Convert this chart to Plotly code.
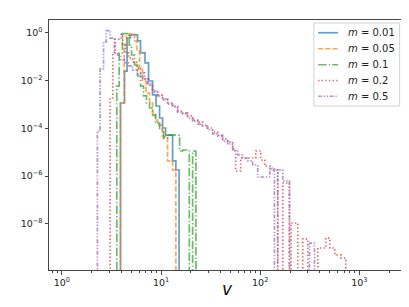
import plotly.graph_objects as go

# ---- data (bin edges in v, densities per bin) ----
labels = ["<i>m</i> = 0.01", "<i>m</i> = 0.05", "<i>m</i> = 0.1", "<i>m</i> = 0.2", "<i>m</i> = 0.5"]

edges_m001 = [3.90, 4.28, 4.54, 4.92, 5.79, 6.21, 6.89, 7.48, 8.21, 8.90, 9.66, 10.36, 11.10, 13.07, 14.11, 15.20]
dens_m001 = [1.15e-3, 0.025, 0.61, 0.82, 0.46, 0.144, 0.055, 0.0096, 0.0025, 0.00086, 0.00027, 0.000103, 5.2e-5, 4.3e-6, 1.79e-6]

edges_m005 = [3.90, 4.25, 4.48, 4.77, 5.40, 5.72, 6.07, 6.50, 7.05, 7.65, 8.21, 8.80, 9.22, 10.36, 11.63, 13.07, 14.11]
dens_m005 = [1.15e-3, 0.31, 0.74, 0.90, 0.46, 0.174, 0.034, 0.0096, 0.0030, 0.00115, 0.00044, 0.00022, 0.000137, 4.6e-5, 4.3e-6, 1.79e-6]

edges_m01 = [3.58, 3.78, 4.08, 4.77, 5.04, 5.40, 5.79, 6.21, 6.66, 7.14, 7.65, 8.21, 8.80, 9.66, 10.60, 11.63, 15.38, 16.49, 19.27, 20.81, 22.47]
dens_m01 = [0.0059, 0.144, 0.93, 0.31, 0.118, 0.045, 0.0156, 0.0059, 0.0023, 0.00115, 0.00071, 0.00036, 0.000167, 8.5e-5, 3.9e-5, 5.2e-5, 1.12e-5, 1.23e-5, 0.0, 1.12e-5]

edges_m02 = [3.07, 3.26, 3.45, 3.96, 4.10, 4.38, 4.70, 5.15, 5.66, 6.21, 6.81, 7.48, 8.21, 9.22, 10.36, 11.63,
             13.07, 14.68, 16.49, 18.53, 20.81, 23.37, 26.26, 29.49, 33.13, 37.22, 41.81, 46.97, 52.76, 56.56,
             63.54, 90.06, 101.2, 111.1, 127.7, 150.2, 168.8, 197.2, 204.7, 239.2, 268.8, 301.9, 381.0, 458.6,
             503.5, 565.6, 650.4, 730.4]
dens_m02 = [0.00186, 0.15, 0.55, 0.86, 0.31, 0.144, 0.089, 0.060, 0.034, 0.021, 0.0117, 0.0065, 0.0037, 0.0025,
            0.00154, 0.00115, 0.00078, 0.00053, 0.00040, 0.00033, 0.00022, 0.00018, 0.000125, 0.000103, 7.0e-5,
            4.8e-5, 3.6e-5, 2.7e-5, 1.36e-5, 1.62e-6, 5.7e-6, 1.12e-5, 4.7e-6, 2.6e-6, 1.79e-6, 0.0, 5.1e-7, 0.0,
            1.07e-8, 0.0, 2.3e-9, 0.0, 9.6e-10, 2.5e-9, 9.6e-10, 4.9e-10, 3.6e-10]

edges_m05 = [2.28, 2.43, 2.63, 2.80, 3.07, 3.39, 3.64, 3.90, 4.28, 4.70, 5.15, 5.79, 6.50, 7.31, 8.21, 9.22, 10.36,
             11.63, 13.07, 14.68, 16.49, 18.53, 20.81, 23.37, 26.26, 29.49, 33.13, 37.22, 41.81, 46.97, 52.76,
             59.27, 66.57, 74.76, 84.00, 94.34, 124.8, 139.1, 150.2, 168.8, 197.2, 314.1, 352.8]
dens_m05 = [7.7e-5, 0.032, 0.42, 1.25, 0.60, 0.144, 0.118, 0.073, 0.055, 0.041, 0.028, 0.019, 0.0117, 0.0072,
            0.0033, 0.0023, 0.00169, 0.00104, 0.00086, 0.00048, 0.00044, 0.00027, 0.00020, 0.000151, 0.000137,
            8.5e-5, 5.8e-5, 5.2e-5, 2.9e-5, 2.2e-5, 1.12e-5, 7.6e-6, 5.7e-6, 4.3e-6, 2.9e-6, 9.1e-7, 2.17e-6, 0.0,
            1.79e-6, 6.2e-7, 0.0, 1.55e-9]

series = [
    (edges_m001, dens_m001, "#1f77b4", "solid"),
    (edges_m005, dens_m005, "#ff7f0e", "5px,2.2px"),
    (edges_m01, dens_m01, "#2ca02c", "8.5px,2.1px,1.4px,2.1px"),
    (edges_m02, dens_m02, "#d62728", "1.4px,2.2px"),
    (edges_m05, dens_m05, "#9467bd", "4px,1.6px,1.4px,1.6px,1.4px,1.6px"),
]

FLOOR = 1e-20  # empty bins fall below the visible axis, as on a log scale
LW = 1.7
ALPHA = 0.7

fig = go.Figure()
for (edges, dens, color, dash), name in zip(series, labels):
    xs = [edges[0]] + edges[:-1] + [edges[-1]]
    ys = [FLOOR] + [d if d > 0 else FLOOR for d in dens] + [FLOOR]
    fig.add_trace(go.Scatter(
        x=xs, y=ys, mode="lines", name=name, line_shape="hv",
        line=dict(color=color, width=LW, dash=dash), opacity=ALPHA, showlegend=False,
    ))

# ---- legend box drawn in the plot's paper space (matplotlib-style) ----
leg_x0, leg_x1, leg_y0, leg_y1 = 0.744, 0.985, 0.656, 0.988
fig.add_shape(type="rect", xref="paper", yref="paper", x0=leg_x0, x1=leg_x1, y0=leg_y0, y1=leg_y1,
              line=dict(color="#d0d0d0", width=1), fillcolor="rgba(255,255,255,0.8)", layer="above")
row_y = [0.949, 0.885, 0.821, 0.758, 0.695]
for (edges, dens, color, dash), name, yy in zip(series, labels, row_y):
    fig.add_shape(type="line", xref="paper", yref="paper", x0=0.756, x1=0.812, y0=yy, y1=yy,
                  line=dict(color=color, width=LW, dash=dash), opacity=ALPHA, layer="above")
    fig.add_annotation(xref="paper", yref="paper", x=0.835, y=yy, text=name, showarrow=False,
                       xanchor="left", yanchor="middle",
                       font=dict(family="DejaVu Sans", size=10, color="#222"))

# x-axis label placed as in the reference
fig.add_annotation(xref="paper", yref="paper", x=0.5, y=-0.074, text="<i>v</i>", showarrow=False,
                   xanchor="center", yanchor="middle",
                   font=dict(family="DejaVu Sans", size=17, color="#111"))

x_major = [1, 10, 100, 1000]
x_major_text = ["10<sup>0</sup>", "10<sup>1</sup>", "10<sup>2</sup>", "10<sup>3</sup>"]
x_minor = [m * 10 ** e for e in range(-1, 4) for m in range(2, 10)]
x_minor = [v for v in x_minor if 0.73 < v < 2880]
y_major = [1, 1e-2, 1e-4, 1e-6, 1e-8]
y_major_text = ["10<sup>0</sup>", "10<sup>−2</sup>", "10<sup>−4</sup>", "10<sup>−6</sup>", "10<sup>−8</sup>"]

axis_common = dict(
    showline=True, linecolor="#444", linewidth=1, mirror=True, showgrid=False, zeroline=False,
    ticks="outside", ticklen=3.5, tickwidth=0.8, tickcolor="#444",
    tickfont=dict(family="DejaVu Sans", size=9.5, color="#222"),
)

fig.update_layout(
    width=409, height=307,
    margin=dict(l=41, r=12, t=12, b=45),
    paper_bgcolor="white", plot_bgcolor="white",
    font=dict(family="DejaVu Sans", size=9.5, color="#222"),
    xaxis=dict(type="log", range=[-0.13, 3.46], tickvals=x_major, ticktext=x_major_text,
               minor=dict(tickvals=x_minor, ticks="outside", ticklen=2, tickwidth=0.6, tickcolor="#444"),
               **axis_common),
    yaxis=dict(type="log", range=[-9.94, 0.54], tickvals=y_major, ticktext=y_major_text, **axis_common),
    showlegend=False,
)

fig.write_html("out.html")
